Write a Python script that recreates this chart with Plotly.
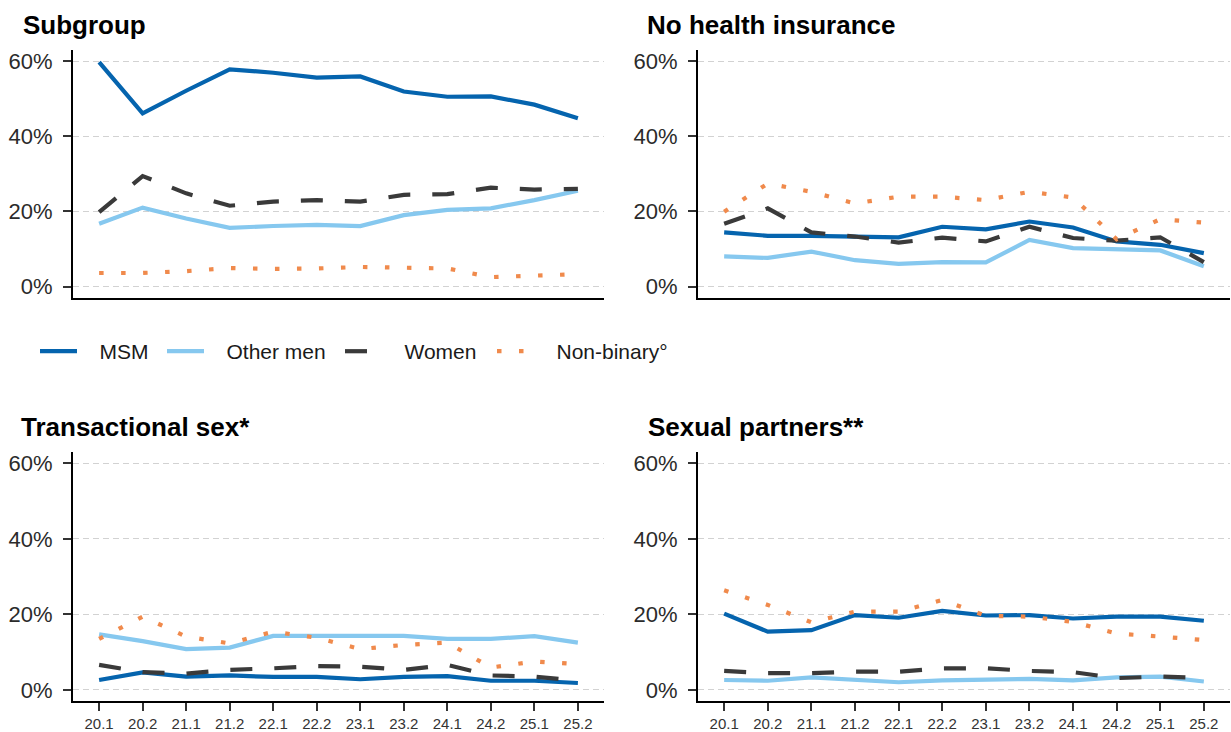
import plotly.graph_objects as go

# Survey waves (year.half)
waves = ["20.1", "20.2", "21.1", "21.2", "22.1", "22.2",
         "23.1", "23.2", "24.1", "24.2", "25.1", "25.2"]

groups = ["MSM", "Other men", "Women", "Non-binary°"]

# Share of respondents (%) per wave, one list per panel and group
subgroup_msm = [59.7, 46.1, 52.1, 57.8, 56.9, 55.6, 55.9, 51.9, 50.5, 50.6, 48.4, 44.8]
subgroup_other = [16.7, 21.0, 18.1, 15.6, 16.1, 16.4, 16.1, 19.0, 20.4, 20.8, 23.0, 25.5]
subgroup_women = [19.8, 29.4, 24.8, 21.5, 22.6, 23.0, 22.6, 24.4, 24.6, 26.3, 25.8, 26.0]
subgroup_nonbin = [3.6, 3.6, 4.1, 4.9, 4.7, 4.8, 5.2, 5.1, 4.8, 2.5, 2.9, 3.3]

noins_msm = [14.4, 13.5, 13.5, 13.3, 13.1, 15.9, 15.2, 17.3, 15.7, 12.0, 11.1, 8.9]
noins_other = [8.0, 7.6, 9.3, 7.0, 6.0, 6.5, 6.4, 12.4, 10.2, 9.8, 9.6, 5.4]
noins_women = [16.7, 20.8, 14.4, 13.3, 11.7, 13.0, 12.0, 15.9, 12.9, 12.2, 13.1, 6.5]
noins_nonbin = [19.9, 27.4, 25.2, 22.1, 23.9, 23.9, 23.0, 25.2, 23.7, 12.6, 17.9, 17.0]

trans_msm = [2.6, 4.6, 3.5, 3.8, 3.4, 3.4, 2.8, 3.4, 3.6, 2.4, 2.4, 1.8]
trans_other = [14.7, 12.9, 10.8, 11.2, 14.3, 14.3, 14.3, 14.3, 13.5, 13.5, 14.2, 12.5]
trans_women = [6.6, 4.7, 4.3, 5.3, 5.7, 6.3, 6.1, 5.3, 6.6, 3.8, 3.5, 2.4]
trans_nonbin = [13.5, 19.4, 14.1, 12.3, 15.4, 13.8, 10.8, 11.9, 12.5, 5.9, 7.5, 6.8]

partners_msm = [20.2, 15.4, 15.8, 19.8, 19.1, 20.9, 19.7, 19.8, 18.9, 19.4, 19.4, 18.3]
partners_other = [2.6, 2.4, 3.3, 2.6, 2.0, 2.5, 2.7, 2.9, 2.5, 3.3, 3.5, 2.2]
partners_women = [5.0, 4.4, 4.4, 4.8, 4.8, 5.7, 5.7, 5.0, 4.7, 3.1, 3.5, 3.1]
partners_nonbin = [26.4, 22.5, 17.9, 20.7, 20.7, 23.8, 19.6, 19.4, 18.0, 14.9, 14.1, 13.2]

panel_titles = ["Subgroup", "No health insurance", "Transactional sex*", "Sexual partners**"]
panel_series = [
    [subgroup_msm, subgroup_other, subgroup_women, subgroup_nonbin],
    [noins_msm, noins_other, noins_women, noins_nonbin],
    [trans_msm, trans_other, trans_women, trans_nonbin],
    [partners_msm, partners_other, partners_women, partners_nonbin],
]

y_ticks = [0, 20, 40, 60]

# Styling
W, H = 1231, 732
colors = ["#0564AE", "#86C8EF", "#3A3A3A", "#F08A4C"]
dashes = ["solid", "solid", "22px,22px", "4.5px,17.5px"]
FONT = "Liberation Sans, Arial, sans-serif"
KEY_PAD = "\u00a0\u00a0\u00a0"  # space between legend key and its label

# Panel boxes in pixels: (left, right, top, bottom)
boxes = [
    (73, 604, 49, 298),
    (698, 1230, 49, 298),
    (73, 604, 453, 703),
    (698, 1230, 453, 703),
]
title_pos = [(21, 24), (645, 24), (19, 428), (646, 428)]

fig = go.Figure()

for p, series in enumerate(panel_series):
    ax = "" if p == 0 else str(p + 1)
    for g, vals in enumerate(series):
        legend_name = "legend" if g == 0 else f"legend{g + 1}"
        fig.add_trace(go.Scatter(
            x=waves, y=vals, mode="lines", name=KEY_PAD + groups[g],
            xaxis="x" + ax, yaxis="y" + ax,
            line=dict(color=colors[g], width=4.2, dash=dashes[g]),
            showlegend=(p == 0), legend=legend_name,
            hoverinfo="skip",
        ))

    l, r, t, b = boxes[p]
    bottom_row = p >= 2
    fig.layout["xaxis" + ax] = dict(
        domain=[l / W, r / W], anchor="y" + ax,
        type="category", range=[-0.6, 11.6],
        showline=True, linecolor="black", linewidth=2.2,
        showgrid=False, zeroline=False,
        ticks="outside" if bottom_row else "", ticklen=8, tickwidth=2, tickcolor="#333333",
        showticklabels=bottom_row,
        tickfont=dict(family=FONT, size=15, color="#333333"),
        fixedrange=True,
    )
    fig.layout["yaxis" + ax] = dict(
        domain=[1 - b / H, 1 - t / H], anchor="x" + ax,
        range=[-3, 63], tickvals=y_ticks, ticktext=[f"{v}%" for v in y_ticks],
        showline=True, linecolor="black", linewidth=2.2,
        showgrid=True, gridcolor="#d2d2d2", gridwidth=1, griddash="6px,4px",
        zeroline=False,
        ticks="outside", ticklen=8, tickwidth=2, tickcolor="#333333",
        ticklabelstandoff=6,
        tickfont=dict(family=FONT, size=22, color="#2b2b2b"),
        fixedrange=True,
    )
    tx, ty = title_pos[p]
    fig.add_annotation(
        text=f"<b>{panel_titles[p]}</b>", xref="paper", yref="paper",
        x=tx / W, y=1 - ty / H, xanchor="left", yanchor="middle",
        showarrow=False, font=dict(family=FONT, size=26, color="black"),
    )

# One legend per group so each entry sits at its own position
legend_x = [35, 162, 340, 492]
legend_y = 1 - 352 / H
legend_style = dict(
    orientation="h", xanchor="left", yanchor="middle", y=legend_y,
    bgcolor="rgba(0,0,0,0)", borderwidth=0, itemwidth=37,
    font=dict(family=FONT, size=21, color="#1a1a1a"),
)
fig.update_layout(
    legend=dict(x=legend_x[0] / W, **legend_style),
    legend2=dict(x=legend_x[1] / W, **legend_style),
    legend3=dict(x=legend_x[2] / W, **legend_style),
    legend4=dict(x=legend_x[3] / W, **legend_style),
)

fig.update_layout(
    width=W, height=H,
    margin=dict(l=0, r=0, t=0, b=0),
    plot_bgcolor="white", paper_bgcolor="white",
    font=dict(family=FONT),
)

fig.write_html("out.html")
